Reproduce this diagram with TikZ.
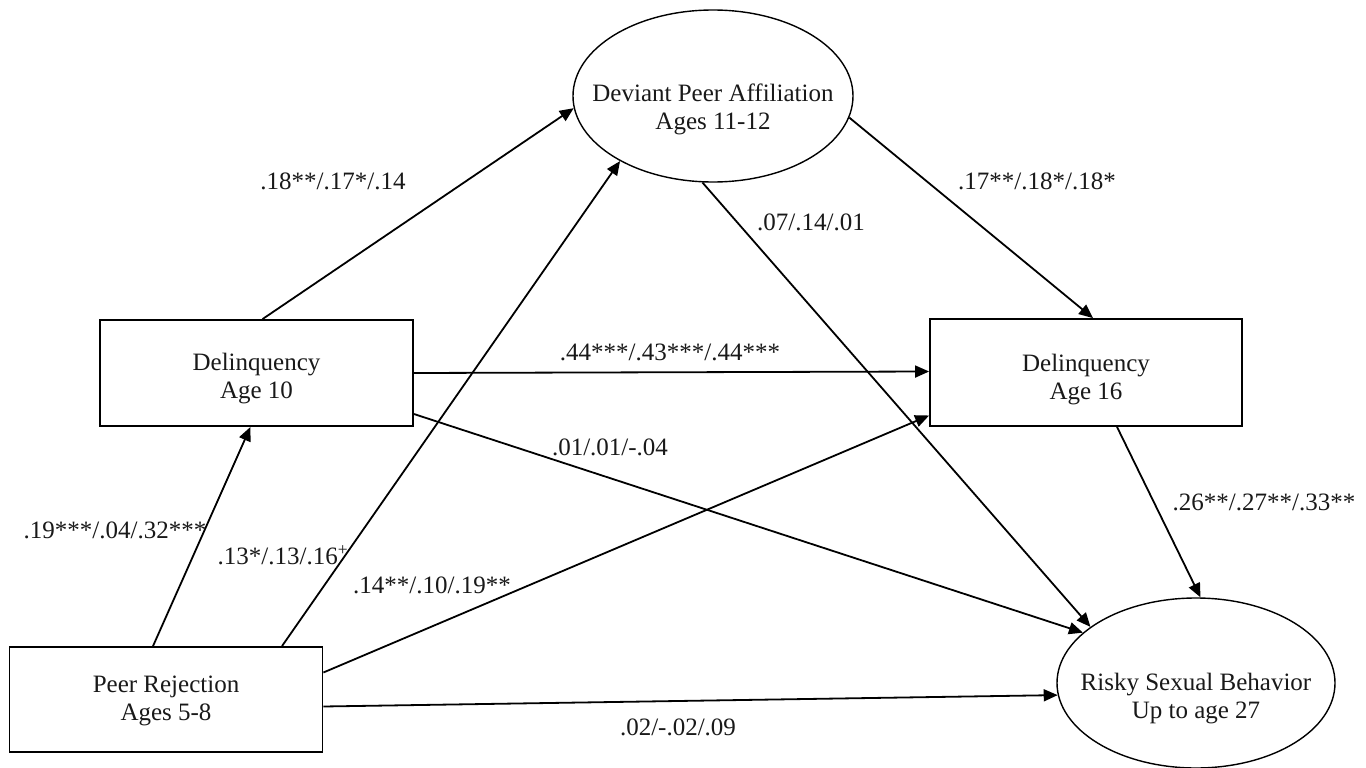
\documentclass[tikz,border=0pt]{standalone}
\usepackage{fontspec}
\setmainfont{Liberation Serif}
\usetikzlibrary{arrows.meta,shapes.geometric}
\begin{document}
\begin{tikzpicture}[x=1pt,y=-1pt,
  every node/.style={font=\fontsize{25}{28}\selectfont,text=black!90},
  box/.style={draw,line width=1.8pt,minimum width=313pt,minimum height=106pt,inner sep=0pt},
  oval/.style={draw,ellipse,line width=1.4pt,minimum width=280pt,minimum height=172pt,inner sep=0pt},
  arr/.style={line width=1.8pt,-{Triangle[length=14pt,width=12pt]}},
  lab/.style={inner sep=0pt},
  txt/.style={inner sep=0pt,align=center}
]
\useasboundingbox[fill=white] (0,0) rectangle (1366,768);

\node[box] (d10) at (256.5,373) {};
\node[txt] (d10t) at ([yshift=-6pt]d10.center) {Delinquency\\Age 10};
\node[box,minimum width=312pt,minimum height=107pt] (d16) at (1086,372.5) {};
\node[txt] (d16t) at ([yshift=-7pt]d16.center) {Delinquency\\Age 16};
\node[box,minimum height=105pt] (pr) at (166,699.5) {};
\node[txt] (prt) at ([yshift=-1pt]pr.center) {Peer Rejection\\Ages 5-8};
\node[oval] (dev) at (713,96) {};
\node[txt] (devt) at ([yshift=-13pt]dev.center) {Deviant Peer Affiliation\\Ages 11-12};
\node[oval,minimum width=278pt,minimum height=170pt] (rsb) at (1196,683) {};
\node[txt] (rsbt) at ([yshift=-16pt]rsb.center) {Risky Sexual Behavior\\Up to age 27};

\draw[arr] ([xshift=6pt]d10.north) -- (dev.185);
\draw[arr] ([xshift=-13pt]pr.north) -- ([xshift=-6pt]d10.south);
\draw[arr] ([xshift=116pt]pr.north) -- (dev.215);
\draw[arr] ([yshift=27pt]pr.east) -- ([yshift=-43pt]d16.west);
\draw[arr] ([yshift=-7pt]pr.east) -- (rsb.185);
\draw[arr] (d10.east) -- ([yshift=1pt]d16.west);
\draw[arr] ([yshift=-41pt]d10.east) -- (rsb.156);
\draw[arr] (dev.263) -- (rsb.152);
\draw[arr] (dev.351) -- ([xshift=7pt]d16.north);
\draw[arr] ([xshift=31pt]d16.south) -- (rsb.87);

\node[lab] (l1) at (333,181) {.18**/.17*/.14};
\node[lab] (l2) at (1037,181) {.17**/.18*/.18*};
\node[lab] (l3) at (811,222) {.07/.14/.01};
\node[lab] (l4) at (670,352) {.44***/.43***/.44***};
\node[lab] (l5) at (610,447) {.01/.01/-.04};
\node[lab] (l6) at (1264,502) {.26**/.27**/.33**};
\node[lab] (l7) at (115,530) {.19***/.04/.32***};
\node[lab] (l8) at (283,555) {.13*/.13/.16\textsuperscript{+}};
\node[lab] (l9) at (432,585) {.14**/.10/.19**};
\node[lab] (l10) at (678,727) {.02/-.02/.09};
\end{tikzpicture}
\end{document}
